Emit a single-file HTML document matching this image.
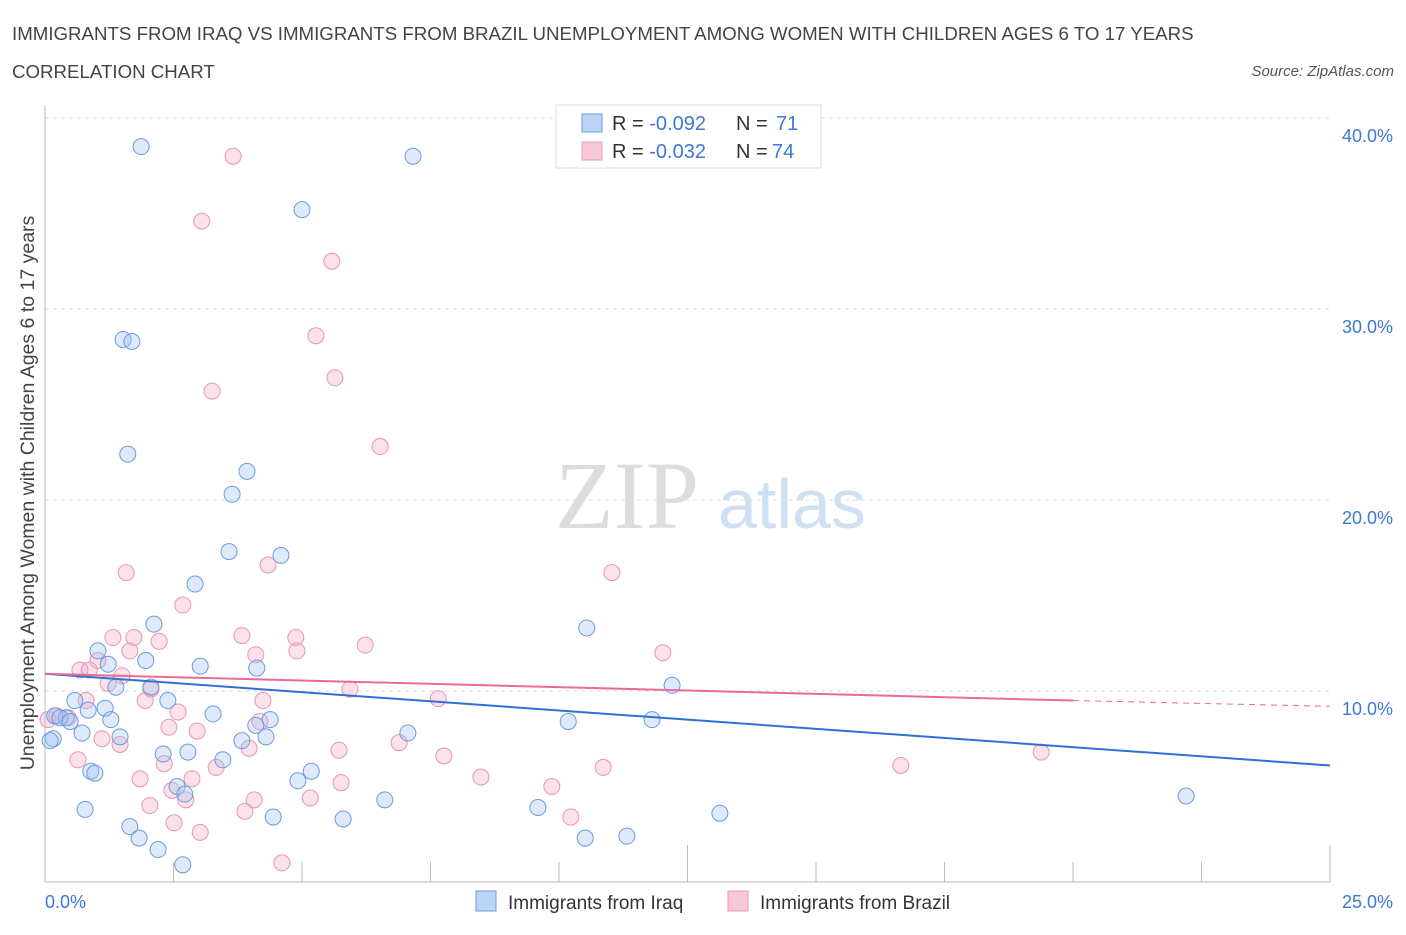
<!DOCTYPE html>
<html><head><meta charset="utf-8"><style>
body{margin:0;background:#fff;font-family:"Liberation Sans",sans-serif;}
</style></head><body>
<svg id="chart" width="1406" height="930" xmlns="http://www.w3.org/2000/svg" font-family="Liberation Sans, sans-serif">
<text x="12" y="40" font-size="18.7" fill="#444">IMMIGRANTS FROM IRAQ VS IMMIGRANTS FROM BRAZIL UNEMPLOYMENT AMONG WOMEN WITH CHILDREN AGES 6 TO 17 YEARS</text>
<text x="12" y="78" font-size="18.7" fill="#444">CORRELATION CHART</text>
<text x="1394" y="76" font-size="15" fill="#555" font-style="italic" text-anchor="end">Source: ZipAtlas.com</text>
<text x="555" y="528" font-size="96" fill="#ddd" font-family="Liberation Serif, serif">ZIP</text>
<text x="718" y="528" font-size="70" fill="#cfe0f3">atlas</text>
<text transform="translate(34,493) rotate(-90)" font-size="19.5" fill="#444" text-anchor="middle">Unemployment Among Women with Children Ages 6 to 17 years</text>
<g id="grid"></g><g id="axes"></g><g id="pink"></g><g id="blue"></g><g id="trends"></g>
<g>
<rect x="556" y="105" width="265" height="63" fill="#fff" stroke="#ddd"/>
<rect x="582" y="114" width="20" height="18" fill="#bcd4f5" stroke="#6a9be0"/>
<text x="612" y="130" font-size="20" fill="#333">R = <tspan fill="#3c78d8">-0.092</tspan></text>
<text x="736" y="130" font-size="20" fill="#333">N = <tspan x="776" fill="#3c78d8">71</tspan></text>
<rect x="582" y="142" width="20" height="18" fill="#f9c8d8" stroke="#e899b5"/>
<text x="612" y="158" font-size="20" fill="#333">R = <tspan fill="#3c78d8">-0.032</tspan></text>
<text x="736" y="158" font-size="20" fill="#333">N = <tspan x="772" fill="#3c78d8">74</tspan></text>
</g>
<g>
<rect x="476" y="891" width="20" height="20" fill="#bcd4f5" stroke="#6a9be0"/>
<text x="508" y="909" font-size="19" fill="#333">Immigrants from Iraq</text>
<rect x="728" y="891" width="20" height="20" fill="#f9c8d8" stroke="#e899b5"/>
<text x="760" y="909" font-size="19" fill="#333">Immigrants from Brazil</text>
</g>
</svg>
<script>
const yTicks=[10,20,30,40];
const xTickLabels=["0.0%","25.0%"];
const iraqX=[1.87,7.16,5.0,1.52,1.69,1.61,3.93,3.64,3.58,4.59,2.92,2.12,10.54,1.03,1.96,3.02,1.23,4.12,12.2,2.06,1.38,0.58,2.39,1.17,0.84,3.27,4.38,0.19,1.28,0.41,4.1,10.18,11.81,7.06,0.72,1.46,0.16,3.83,4.3,2.78,2.3,3.46,0.89,0.97,5.18,4.92,2.57,2.72,6.61,0.78,9.59,13.13,22.2,4.44,5.8,1.65,1.83,10.51,11.32,2.2,2.68,0.1,0.29,0.49];
const iraqY=[38.5,38.0,35.2,28.4,28.3,22.4,21.5,20.3,17.3,17.1,15.6,13.5,13.3,12.1,11.6,11.3,11.4,11.2,10.3,10.2,10.2,9.5,9.5,9.1,9.0,8.8,8.5,8.7,8.5,8.6,8.2,8.4,8.5,7.8,7.8,7.6,7.5,7.4,7.6,6.8,6.7,6.4,5.8,5.7,5.8,5.3,5.0,4.6,4.3,3.8,3.9,3.6,4.5,3.4,3.3,2.9,2.3,2.3,2.4,1.7,0.9,7.4,8.6,8.4];
const brazilX=[3.66,3.05,5.58,5.27,5.64,3.25,6.52,1.58,4.34,11.03,2.68,3.83,4.88,1.32,1.73,6.23,2.22,4.9,4.1,12.02,0.68,1.65,1.03,0.86,1.5,1.23,2.06,5.93,4.24,7.65,1.95,2.59,0.8,0.23,0.45,4.18,2.96,2.41,1.11,3.97,5.72,6.89,1.46,7.76,19.38,2.32,0.64,3.33,10.86,8.48,16.65,1.85,2.86,5.76,9.86,2.47,2.74,4.07,5.16,2.04,3.89,10.23,2.51,3.02,4.61,0.06];
const brazilY=[38.0,34.6,32.5,28.6,26.4,25.7,22.8,16.2,16.6,16.2,14.5,12.9,12.8,12.8,12.8,12.4,12.6,12.1,11.9,12.0,11.1,12.1,11.6,11.1,10.8,10.4,10.1,10.1,9.5,9.6,9.5,8.9,9.5,8.7,8.6,8.4,7.9,8.1,7.5,7.0,6.9,7.3,7.2,6.6,6.8,6.2,6.4,6.0,6.0,5.5,6.1,5.4,5.4,5.2,5.0,4.8,4.3,4.3,4.4,4.0,3.7,3.4,3.1,2.6,1.0,8.5];
const iraqTrend=[10.9,6.1];
const brazilTrend=[10.9,9.5,9.2];
const brazilTrendX=[0,20,25];
const NS="http://www.w3.org/2000/svg";
const X=v=>45+v*(1285/25), Y=v=>882-v*19.1;
function mk(t,a,p){const e=document.createElementNS(NS,t);for(const k in a)e.setAttribute(k,a[k]);document.getElementById(p).appendChild(e);return e;}
yTicks.forEach(t=>{
 const g=mk('line',{x1:45,x2:1330,y1:Y(t),y2:Y(t),stroke:'#ddd','stroke-dasharray':'4,4'},'grid');
 
 
 const l=mk('text',{x:1393,y:Y(t)+24,'font-size':18,fill:'#3c78d8','text-anchor':'end'},'axes');
 l.textContent=t.toFixed(1)+'%';
 
 
});
mk('line',{x1:45,x2:45,y1:105,y2:882,stroke:'#bbb'},'axes');
mk('line',{x1:45,x2:1330,y1:882,y2:882,stroke:'#bbb'},'axes');
for(let i=0;i<=10;i++){const v=i*2.5;const t=mk('line',{x1:X(v),x2:X(v),y1:(i==5||i==10)?845:862,y2:882,stroke:'#bbb'},'axes');
 
 }
xTickLabels.forEach((s,i)=>{const t=mk('text',{x:i?1393:45,y:908,'font-size':18,fill:'#3c78d8','text-anchor':i?'end':'start'},'axes');t.textContent=s;
 
 });
brazilX.forEach((x,i)=>{const c=mk('circle',{cx:X(x),cy:Y(brazilY[i]),r:8,fill:'rgba(244,168,196,0.35)',stroke:'#e895b3','stroke-width':1},'pink');
 
 });
iraqX.forEach((x,i)=>{const c=mk('circle',{cx:X(x),cy:Y(iraqY[i]),r:8,fill:'rgba(160,196,240,0.35)',stroke:'#6a9be0','stroke-width':1},'blue');
 
 });
const bt=mk('line',{x1:X(0),y1:Y(iraqTrend[0]),x2:X(25),y2:Y(iraqTrend[1]),stroke:'#2f6fd6','stroke-width':2},'trends');


const pt=mk('line',{x1:X(brazilTrendX[0]),y1:Y(brazilTrend[0]),x2:X(brazilTrendX[1]),y2:Y(brazilTrend[1]),stroke:'#e86a95','stroke-width':2},'trends');


const pd=mk('line',{x1:X(brazilTrendX[1]),y1:Y(brazilTrend[1]),x2:X(brazilTrendX[2]),y2:Y(brazilTrend[2]),stroke:'#e86a95','stroke-width':1,'stroke-dasharray':'6,5'},'trends');


</script>
</body></html>
